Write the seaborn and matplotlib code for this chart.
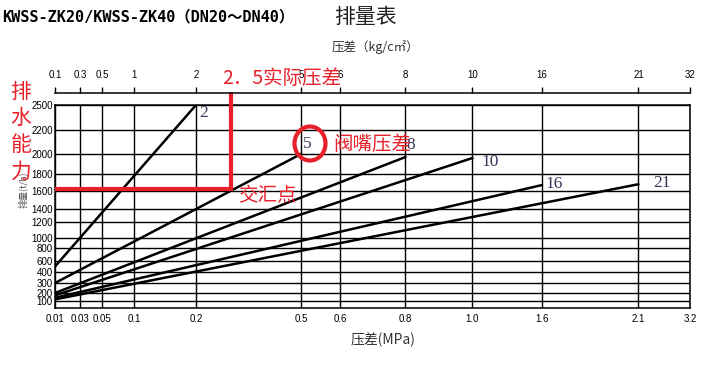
import numpy as np
import pandas as pd
import matplotlib
matplotlib.use("Agg")
import matplotlib.pyplot as plt
import seaborn as sns
from matplotlib.patches import Ellipse
from matplotlib.transforms import blended_transform_factory
from matplotlib import font_manager

# ---------------- data ----------------
x_ticks_mpa = [0.01, 0.03, 0.05, 0.1, 0.2, 0.5, 0.6, 0.8, 1.0, 1.6, 2.1, 3.2]
x_tick_labels = ["0.01", "0.03", "0.05", "0.1", "0.2", "0.5", "0.6", "0.8", "1.0", "1.6", "2.1", "3.2"]
top_tick_labels = ["0.1", "0.3", "0.5", "1", "2", "5", "6", "8", "10", "16", "21", "32"]
y_ticks = [100, 200, 300, 400, 600, 800, 1000, 1200, 1400, 1600, 1800, 2000, 2200, 2500]

series_names = ["2", "5", "8", "10", "16", "21"]
start_dp = [0.01, 0.01, 0.01, 0.01, 0.01, 0.01]
start_flow = [500, 300, 200, 170, 140, 120]
end_dp = [0.2, 0.5, 0.8, 1.0, 1.6, 2.1]
end_flow = [2500, 2000, 1970, 1960, 1670, 1680]

actual_dp = 0.3        # 2.5 实际压差 marker line
cross_flow = 1620      # 交汇点 level

# ---------------- layout (pixel grid of the nomograph) ----------------
W, H = 714, 368
x_pix = [55, 80, 102, 134.5, 196, 301, 340, 405.5, 472.5, 542, 638.5, 690]
y_anchor_vals = [0] + y_ticks
y_pix = [308, 301, 293, 283, 272, 261, 248, 238, 222, 209, 191, 174, 154, 130, 105]
y_pos = [308 - p for p in y_pix]

def fx(v):
    return np.interp(v, x_ticks_mpa, x_pix)
def ix(p):
    return np.interp(p, x_pix, x_ticks_mpa)
def fy(v):
    return np.interp(v, y_anchor_vals, y_pos)
def iy(p):
    return np.interp(p, y_pos, y_anchor_vals)

def P(x, y):
    return (x / W, 1 - y / H)

rows = []
for n, x0, y0, x1, y1 in zip(series_names, start_dp, start_flow, end_dp, end_flow):
    rows.append({"series": n, "dp": x0, "flow": y0})
    rows.append({"series": n, "dp": x1, "flow": y1})
df = pd.DataFrame(rows)

sns.set_theme(style="white")
plt.rcParams["font.family"] = ["Noto Sans CJK SC", "DejaVu Sans"]

names = {f.name for f in font_manager.fontManager.ttflist}
if "Liberation Sans Narrow" in names:
    tick_fp = font_manager.FontProperties(family="Liberation Sans Narrow", size=7.5)
else:
    tick_fp = font_manager.FontProperties(family="Liberation Sans", size=7)

fig = plt.figure(figsize=(W / 100, H / 100), dpi=100)
ax = fig.add_axes([55 / W, (H - 308) / H, (690 - 55) / W, (308 - 105) / H])
ax.set_xscale("function", functions=(fx, ix))
ax.set_yscale("function", functions=(fy, iy))

sns.lineplot(data=df, x="dp", y="flow", units="series", estimator=None,
             color="black", lw=1.8, ax=ax, legend=False, zorder=3)

ax.set_xlim(0.01, 3.2)
ax.set_ylim(0, 2500)
ax.set_xticks(x_ticks_mpa)
ax.set_xticklabels(x_tick_labels)
ax.set_yticks(y_ticks)
ax.set_yticklabels([str(v) for v in y_ticks])
ax.minorticks_off()
ax.grid(True, color="black", lw=1.0)
ax.set_axisbelow(True)
for s in ax.spines.values():
    s.set_color("black")
    s.set_linewidth(1.1)
ax.set_xlabel("")
ax.set_ylabel("")
ax.tick_params(axis="x", length=0, pad=4, colors="black")
ax.tick_params(axis="y", length=0, pad=1.5, colors="black")
for lab in ax.get_xticklabels() + ax.get_yticklabels():
    lab.set_fontproperties(tick_fp)

# top axis (kg/cm2)
ax2 = ax.twiny()
ax2.set_xscale("function", functions=(fx, ix))
ax2.set_xlim(0.01, 3.2)
ax2.set_xticks(x_ticks_mpa)
ax2.set_xticklabels(top_tick_labels)
ax2.minorticks_off()
for k in ["left", "right", "bottom"]:
    ax2.spines[k].set_visible(False)
ax2.spines["top"].set_position(("outward", 8.6))
ax2.spines["top"].set_linewidth(1.1)
ax2.spines["top"].set_color("black")
ax2.tick_params(axis="x", direction="out", length=4.5, width=1.0, pad=5, colors="black")
for lab in ax2.get_xticklabels():
    lab.set_fontproperties(tick_fp)
ax2.grid(False)

# texts
fig.text(*P(2, 17), "KWSS-ZK20/KWSS-ZK40（DN20～DN40）", ha="left", va="center",
         fontsize=11, fontweight="bold", family=["DejaVu Sans Mono", "Noto Sans CJK SC"], color="black")
fig.text(*P(365, 17), "排量表", ha="center", va="center", fontsize=15, color="#222222")
fig.text(*P(375, 47), "压差（kg/c㎡）", ha="center", va="center", fontsize=9, color="#333333")
fig.text(*P(383, 340), "压差(MPa)", ha="center", va="center", fontsize=10, color="#333333")
fig.text(*P(23, 190), "排量(t/h)", ha="center", va="center", rotation=90, fontsize=6.5, color="#555555")

red = "#e8202a"
for ch, yy in zip("排水能力", [92, 118, 145, 172]):
    fig.text(*P(21, yy), ch, ha="center", va="center", fontsize=15, color=red, zorder=6)

# series labels
lab_pos = {"2": (199, 113), "5": (303, 144), "8": (406, 145), "10": (481, 162),
           "16": (545, 184), "21": (653, 183)}
for n in series_names:
    fig.text(*P(*lab_pos[n]), n, ha="left", va="center", fontsize=12.5,
             family=["Liberation Serif", "DejaVu Serif"], color="#34385a", zorder=4)

# red marker lines
ax.plot([0.01, actual_dp], [cross_flow, cross_flow], color=red, lw=3, solid_capstyle="butt",
        zorder=5, clip_on=False)
trans = blended_transform_factory(ax.transData, ax.transAxes)
y_frac = ax.transAxes.inverted().transform(ax.transData.transform((actual_dp, cross_flow)))[1]
ax.plot([actual_dp, actual_dp], [y_frac - 0.008, (308 - 92) / 203], color=red, lw=3,
        solid_capstyle="butt", transform=trans, zorder=5, clip_on=False)

fig.text(*P(222, 78), "2．5实际压差", ha="left", va="center", fontsize=14, color=red, zorder=6)
fig.text(*P(333, 144), "阀嘴压差", ha="left", va="center", fontsize=14, color=red, zorder=6)
fig.text(*P(238, 196), "交汇点", ha="left", va="center", fontsize=14, color=red, zorder=6)

cx, cy = P(310, 143.5)
circ = Ellipse((cx, cy), 31 / W, 34 / H, transform=fig.transFigure, fill=False,
               edgecolor=red, lw=3, zorder=6)
fig.patches.append(circ)

fig.savefig("out.png", dpi=100)
